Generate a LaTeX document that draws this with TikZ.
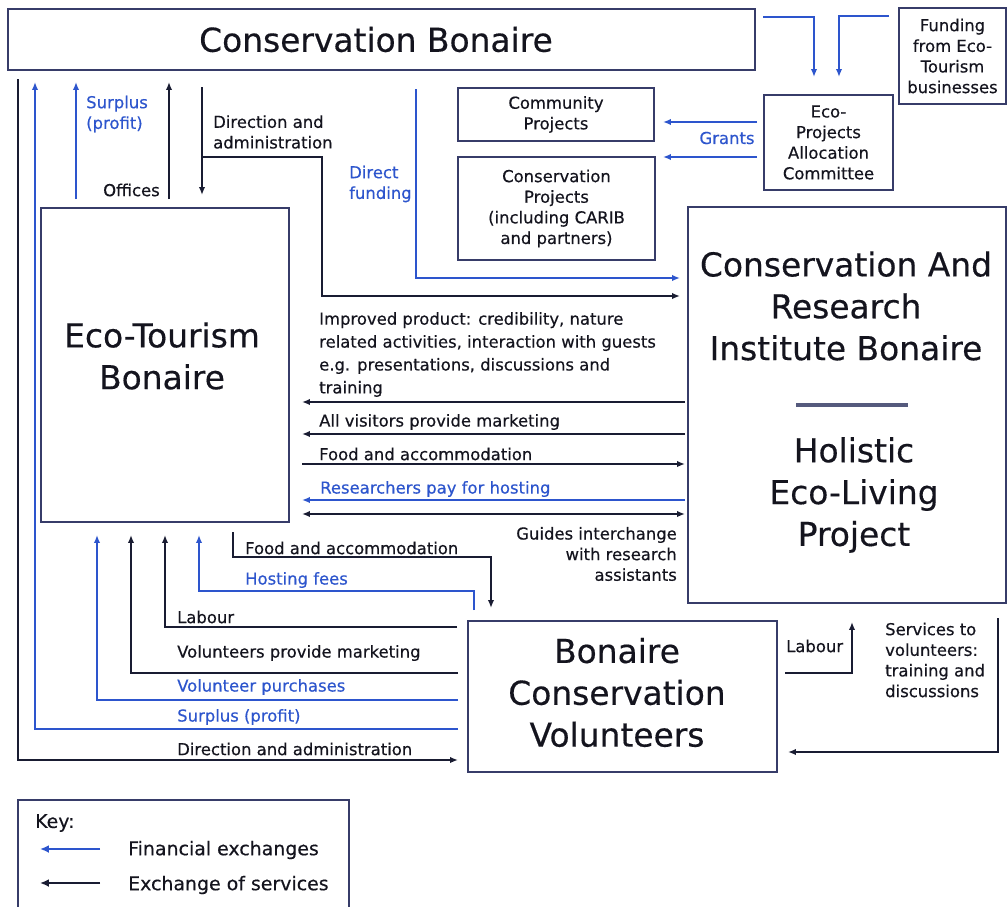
\documentclass[tikz,border=0pt]{standalone}
\usepackage{fontspec}
\setmainfont{DejaVu Sans}[FakeBold=0.4]
\usetikzlibrary{arrows.meta}
\definecolor{fin}{RGB}{45,85,205}
\definecolor{svc}{RGB}{25,28,50}
\definecolor{boxc}{RGB}{55,60,105}
\definecolor{txt}{RGB}{20,20,30}
\definecolor{sepc}{RGB}{85,90,125}
\tikzset{
  box/.style={draw=boxc, line width=1.5pt, inner sep=0pt},
  big/.style={font=\fontsize{33}{42}\selectfont, text=txt, align=center, inner sep=0pt},
  sm/.style={font=\fontsize{16.5}{20.7}\selectfont, text=txt, inner sep=0pt},
  smb/.style={sm, text=fin},
  keyt/.style={font=\fontsize{19}{23}\selectfont, text=txt, inner sep=0pt, anchor=west},
  finl/.style={draw=fin, line width=1.6pt},
  svcl/.style={draw=svc, line width=1.7pt},
  tip/.style={-{Latex[length=8pt,width=6.5pt]}},
  dtip/.style={{Latex[length=8pt,width=6.5pt]}-{Latex[length=8pt,width=6.5pt]}},
}
\begin{document}
\begin{tikzpicture}[x=1bp,y=-1bp]
\useasboundingbox[fill=white] (0,0) rectangle (1008,907);

% ---------- boxes ----------
\node[box, minimum width=747bp, minimum height=61bp] (cb) at (381.5,39.5) {};
\node[big] (cbt) at (376,39.5) {Conservation Bonaire};

\node[box, minimum width=248bp, minimum height=314bp] (etb) at (165,365) {};
\node[big] (etbt) at (162,356) {Eco-Tourism\\Bonaire};

\node[box, minimum width=196bp, minimum height=53bp, sm, align=center] (comm) at (556,114.5) {Community\\Projects};
\node[box, minimum width=197bp, minimum height=103bp, sm, align=center] (consp) at (556.5,208.5) {Conservation\\Projects\\(including CARIB\\and partners)};
\node[box, minimum width=129bp, minimum height=95bp, sm, align=center] (epac) at (828.5,142.5) {Eco-\\Projects\\Allocation\\Committee};
\node[box, minimum width=107bp, minimum height=96bp, sm, align=center] (fund) at (952.5,56) {Funding\\from Eco-\\Tourism\\businesses};

\node[box, minimum width=318bp, minimum height=396bp] (carib) at (847,405) {};
\node[big] (caribt) at (846,306) {Conservation And\\Research\\Institute Bonaire};
\node[big] (holt) at (854,495) {Holistic\\Eco-Living\\Project};
\coordinate (sepL) at (796,405);
\coordinate (sepR) at (908,405);
\draw[sepc, line width=4pt] (sepL) -- (sepR);

\node[box, minimum width=309bp, minimum height=151bp] (bcv) at (622.5,696.5) {};
\node[big] (bcvt) at (617,692.5) {Bonaire\\Conservation\\Volunteers};

% ---------- top right funding ----------
\coordinate (cbR) at (763,17);
\coordinate (epacIn1) at (814,77);
\draw[finl,tip] (cbR) -| (epacIn1);
\coordinate (fundL) at (889,16);
\coordinate (epacIn2) at (839,77);
\draw[finl,tip] (fundL) -| (epacIn2);

% grants
\coordinate (g1s) at (757,122); \coordinate (g1e) at (663,122);
\coordinate (g2s) at (757,157); \coordinate (g2e) at (663,157);
\draw[finl,tip] (g1s) -- (g1e);
\draw[finl,tip] (g2s) -- (g2e);
\node[smb] (grants) at (727,138) {Grants};

% direct funding
\coordinate (df0) at (416,89);
\coordinate (df1) at (680,278);
\draw[finl,tip] (df0) |- (df1);
\node[smb, align=left, anchor=west] (dft) at (349,184) {Direct\\funding};

% direction and administration (top)
\coordinate (da0) at (202,87);
\coordinate (da1) at (202,195);
\draw[svcl,tip] (da0) -- (da1);
\coordinate (da2) at (202,157);
\coordinate (da3) at (680,296);
\draw[svcl,tip] (da2) -- (322,157) -- (322,296) -- (da3);
\node[sm, align=left, anchor=west] (dat) at (213,132) {Direction and\\administration};

% offices / surplus
\coordinate (of0) at (169,199); \coordinate (of1) at (169,82);
\draw[svcl,tip] (of0) -- (of1);
\node[sm, anchor=west] (oft) at (103,190) {Offices};
\coordinate (sp0) at (76,199); \coordinate (sp1) at (76,82);
\draw[finl,tip] (sp0) -- (sp1);
\node[smb, align=left, anchor=west] (spt) at (86,114) {Surplus\\(profit)};

% long outer lines
\coordinate (ls0) at (458,729); \coordinate (ls1) at (35,82);
\draw[finl,tip] (ls0) -| (ls1);
\coordinate (ld0) at (18,79); \coordinate (ld1) at (458,760);
\draw[svcl,tip] (ld0) |- (ld1);

% bottom lines from volunteers
\coordinate (vp0) at (458,700); \coordinate (vp1) at (97,535);
\draw[finl,tip] (vp0) -| (vp1);
\coordinate (vm0) at (458,673); \coordinate (vm1) at (131,535);
\draw[svcl,tip] (vm0) -| (vm1);
\coordinate (lb0) at (457,627); \coordinate (lb1) at (165,535);
\draw[svcl,tip] (lb0) -| (lb1);
\coordinate (hf0) at (474,610); \coordinate (hf1) at (199,535);
\draw[finl,tip] (hf0) |- (199,591) -- (hf1);
\coordinate (fa0) at (233,532); \coordinate (fa1) at (491,608);
\draw[svcl,tip] (fa0) |- (491,557) -- (fa1);

\node[sm, anchor=west] (fat) at (245,548) {Food and accommodation};
\node[smb, anchor=west] (hft) at (245,580) {Hosting fees};
\node[sm, anchor=west] (lbt) at (177,617) {Labour};
\node[sm, anchor=west] (vmt) at (177,653) {Volunteers provide marketing};
\node[smb, anchor=west] (vpt) at (177,687) {Volunteer purchases};
\node[smb, anchor=west] (lst) at (177,717) {Surplus (profit)};
\node[sm, anchor=west] (ldt) at (177,749) {Direction and administration};

% middle exchanges
\coordinate (m1r) at (685,402); \coordinate (m1l) at (302,402);
\draw[svcl,tip] (m1r) -- (m1l);
\coordinate (m2r) at (685,434); \coordinate (m2l) at (302,434);
\draw[svcl,tip] (m2r) -- (m2l);
\coordinate (m3l) at (302,464); \coordinate (m3r) at (685,464);
\draw[svcl,tip] (m3l) -- (m3r);
\coordinate (m4r) at (685,500); \coordinate (m4l) at (302,500);
\draw[finl,tip] (m4r) -- (m4l);
\coordinate (m5l) at (302,514); \coordinate (m5r) at (685,514);
\draw[svcl,dtip] (m5l) -- (m5r);

\node[sm, align=left, anchor=west, font=\fontsize{16.5}{23}\selectfont] (ipt) at (319,354.5) {Improved product: credibility, nature\\related activities, interaction with guests\\e.g. presentations, discussions and\\training};
\node[sm, anchor=west] (avt) at (319,422) {All visitors provide marketing};
\node[sm, anchor=west] (fmt) at (319,454) {Food and accommodation};
\node[smb, anchor=west] (rpt) at (320,489) {Researchers pay for hosting};
\node[sm, align=right, anchor=east] (git) at (677,554) {Guides interchange\\with research\\assistants};

% right side
\coordinate (rl0) at (785,673); \coordinate (rl1) at (852,622);
\draw[svcl,tip] (rl0) -| (rl1);
\node[sm, anchor=west] (rlt) at (786,646) {Labour};
\coordinate (sv0) at (998,618); \coordinate (sv1) at (788,752);
\draw[svcl,tip] (sv0) |- (sv1);
\node[sm, align=left, anchor=west] (svt) at (885,660) {Services to\\volunteers:\\training and\\discussions};

% key
\coordinate (k0) at (18,907); \coordinate (k1) at (349,907);
\draw[draw=boxc, line width=1.5pt] (k0) -- (18,800) -- (349,800) -- (k1);
\node[keyt] (keyt) at (35,823) {Key:};
\coordinate (kf0) at (100,849); \coordinate (kf1) at (40,849);
\draw[draw=fin, line width=2.4pt, -{Latex[length=9pt,width=8pt]}] (kf0) -- (kf1);
\coordinate (ks0) at (100,883); \coordinate (ks1) at (40,883);
\draw[draw=svc, line width=2.8pt, -{Latex[length=9pt,width=8pt]}] (ks0) -- (ks1);
\node[keyt] (kft) at (128,850) {Financial exchanges};
\node[keyt] (kst) at (128,885) {Exchange of services};
\end{tikzpicture}
\end{document}
